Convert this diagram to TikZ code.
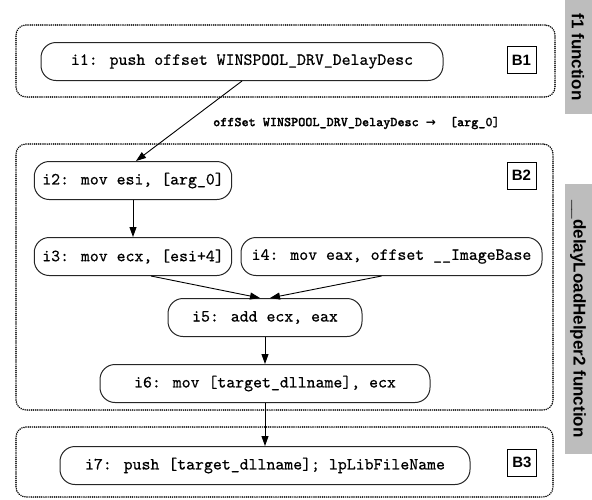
\documentclass[tikz,border=0pt]{standalone}
\usepackage{fontspec}
\newfontfamily\labelsans{Liberation Sans}
\newfontfamily\arrowfont{DejaVu Sans}
\newfontfamily\codefont{lmmono10-regular.otf}[FakeBold=0.6]
\newfontfamily\argfont{lmmonolt10-bold.otf}[FakeBold=1]
\usetikzlibrary{arrows.meta,calc}
\definecolor{sidegray}{RGB}{189,189,189}
\begin{document}
\begin{tikzpicture}[x=1pt,y=-1pt,
  instr/.style={draw=black!85, line width=1pt, rounded corners=15pt,
    minimum height=38pt, inner xsep=8pt,
    font=\codefont\fontsize{17}{20}\selectfont},
  cluster/.style={draw=black, line width=1.7pt,
    dash pattern=on 0.01pt off 2.1pt, line cap=round, rounded corners=10pt,
    inner sep=0pt},
  blabel/.style={draw, line width=1pt, minimum width=29pt,
    minimum height=27pt, inner sep=0pt,
    font=\labelsans\bfseries\fontsize{15}{15}\selectfont},
  flow/.style={-{Triangle[length=10pt,width=7pt]}, line width=0.9pt},
  side/.style={fill=sidegray, inner sep=0pt},
  sidetext/.style={rotate=-90, font=\labelsans\bfseries\fontsize{17}{17}\selectfont}
]
\useasboundingbox (0,0) rectangle (592,499);

% function side bars
\node[side, minimum width=27pt, minimum height=114pt] (f1bar) at (578.5,57) {};
\node[sidetext] (f1txt) at (578,57) {f1 function};
\node[side, minimum width=27pt, minimum height=270pt] (dlbar) at (578.5,319) {};
\node[sidetext] (dltxt) at (578,319) {\_\_delayLoadHelper2 function};

% basic-block clusters
\node[cluster, minimum width=539pt, minimum height=72pt] (B1box) at (285.5,61) {};
\node[cluster, minimum width=537pt, minimum height=266pt] (B2box) at (284.5,277) {};
\node[cluster, minimum width=537pt, minimum height=70pt] (B3box) at (284.5,462) {};

% block labels
\node[blabel] (B1) at (521.5,60) {B1};
\node[blabel] (B2) at (521.5,175.5) {B2};
\node[blabel] (B3) at (522,462.5) {B3};

% instructions
\node[instr, minimum width=402pt] (i1) at (242,61.5) {i1: push offset WINSPOOL\_DRV\_DelayDesc};
\node[instr, minimum width=196pt] (i2) at (133,180.5) {i2: mov esi, [arg\_0]};
\node[instr, minimum width=196pt] (i3) at (133,256.5) {i3: mov ecx, [esi+4]};
\node[instr, minimum width=301pt] (i4) at (391.5,256.5) {i4: mov eax, offset \_\_ImageBase};
\node[instr, minimum width=194pt] (i5) at (265,317.5) {i5: add ecx, eax};
\node[instr, minimum width=330pt] (i6) at (265,383.5) {i6: mov [target\_dllname], ecx};
\node[instr, minimum width=410pt] (i7) at (265,465.5) {i7: push [target\_dllname]; lpLibFileName};

% data flow
\draw[flow] (i1.south) -- ([xshift=3pt]i2.north);
\node[anchor=west, inner sep=0pt, font=\argfont\fontsize{13.5}{14}\selectfont]
  (argmap) at (213,123) {offSet WINSPOOL\_DRV\_DelayDesc~{\arrowfont\bfseries\fontsize{12}{14}\selectfont →}~~[arg\_0]};
\draw[flow] (i2) -- (i3);
\draw[flow] ([xshift=18pt]i3.south) -- ([xshift=-5pt]i5.north);
\draw[flow] ([xshift=-10pt]i4.south) -- ([xshift=5pt]i5.north);
\draw[flow] (i5) -- (i6);
\draw[flow] (i6) -- (i7);
\end{tikzpicture}
\end{document}
